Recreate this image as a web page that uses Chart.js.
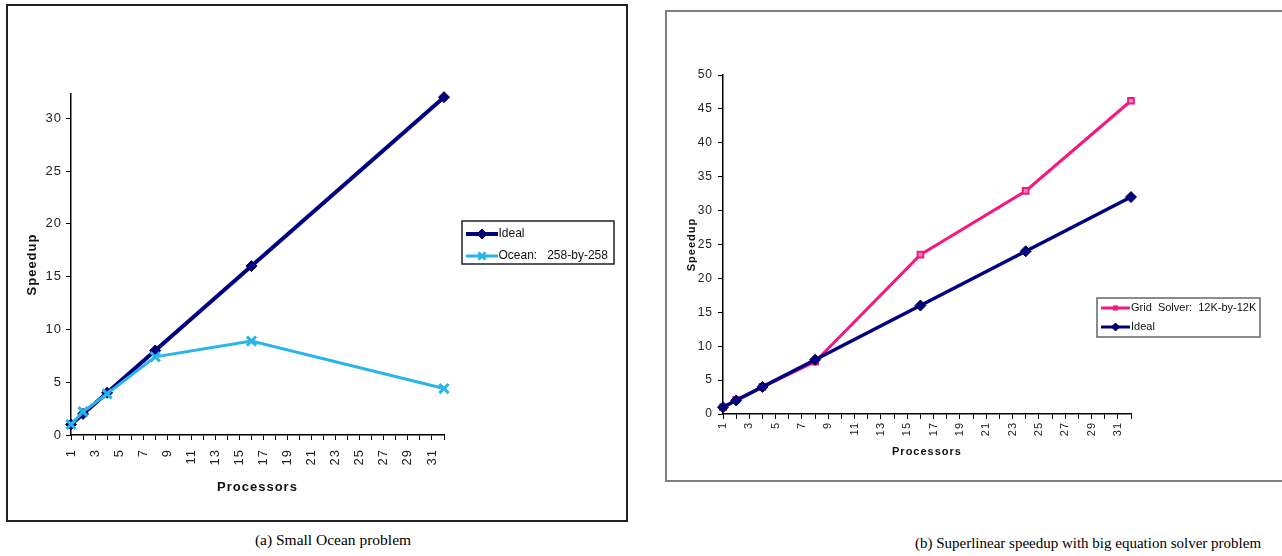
<!DOCTYPE html>
<html>
<head>
<meta charset="utf-8">
<script src="https://cdn.jsdelivr.net/npm/chart.js@4.4.1/dist/chart.umd.min.js"></script>
<style>
  body { margin: 0; background: #fff; width: 1282px; height: 556px; position: relative; overflow: hidden; }
  .frame { position: absolute; box-sizing: border-box; }
  #frameA { left: 6px; top: 4px; width: 622px; height: 518px; border: 2px solid #222; }
  #frameB { left: 665px; top: 10px; width: 620px; height: 472px; border: 2px solid #808080; }
  canvas { position: absolute; }
  #chartA { left: 0; top: 0; }
  #chartB { left: 667px; top: 12px; }
  .caption { position: absolute; font-family: 'Liberation Serif', 'Times New Roman', serif; font-size: 15.5px; color: #000; white-space: nowrap; transform: translateX(-50%); }
  #capA { left: 333px; top: 531px; }
  #capB { left: 1088px; top: 535px; font-size: 15px; }
</style>
</head>
<body>
<div class="frame" id="frameA"></div>
<div class="frame" id="frameB"></div>
<canvas id="chartA" width="640" height="530"></canvas>
<canvas id="chartB" width="613" height="468"></canvas>
<div class="caption" id="capA">(a) Small Ocean problem</div>
<div class="caption" id="capB">(b) Superlinear speedup with big equation solver problem</div>
<script>
// (a) Small Ocean problem
const oceanProcs = [1, 2, 4, 8, 16, 32];
const oceanIdeal = [1, 2, 4, 8, 16, 32];
const oceanSpeedup = [1.0, 2.2, 3.9, 7.4, 8.9, 4.4];
const oceanLabels = ['Ideal', 'Ocean:   258-by-258'];

// (b) Grid solver
const gridProcs = [1, 2, 4, 8, 16, 24, 32];
const gridIdeal = [1, 2, 4, 8, 16, 24, 32];
const gridSpeedup = [1.0, 2.1, 4.0, 7.7, 23.5, 32.9, 46.2];
const gridLabels = ['Grid  Solver:  12K-by-12K', 'Ideal'];

// axis ranges / ticks
const procMin = 1, procMax = 32;
const speedMaxA = 32.3, speedMaxB = 50, speedStep = 5;

const NAVY = '#000080';
const CYAN = '#29B5EA';
const PINK = '#F5187F';
const SANS = "'Liberation Sans', Arial, sans-serif";

const pts = (xs, ys) => xs.map((x, i) => ({ x: x, y: ys[i] }));

// excel-ish letter spacing on axis text
const spacing = {
  id: 'spacing',
  beforeDraw(chart) { chart.ctx.letterSpacing = '1px'; },
  afterDatasetsDraw(chart) { chart.ctx.letterSpacing = '0px'; }
};

// boxed legend placed like the original
const boxLegend = {
  id: 'boxLegend',
  afterDraw(chart, args, o) {
    const ctx = chart.ctx;
    ctx.save();
    ctx.letterSpacing = '0px';
    ctx.strokeStyle = o.border;
    ctx.lineWidth = o.borderWidth;
    ctx.strokeRect(o.x, o.y, o.w, o.h);
    ctx.beginPath();
    ctx.rect(o.x, o.y, o.w - 1, o.h);
    ctx.clip();
    o.items.forEach((it, i) => {
      const y = o.y + o.rows[i];
      ctx.strokeStyle = it.color;
      ctx.lineWidth = it.lineWidth;
      ctx.beginPath();
      ctx.moveTo(o.x + o.line0, y);
      ctx.lineTo(o.x + o.line1, y);
      ctx.stroke();
      ctx.fillStyle = it.fill;
      ctx.strokeStyle = it.edge;
      ctx.lineWidth = it.pointBorder;
      Chart.helpers.drawPoint(ctx, { pointStyle: it.style, radius: it.radius, rotation: 0, borderWidth: it.pointBorder },
        o.x + (o.line0 + o.line1) / 2, y);
      ctx.fillStyle = '#111';
      ctx.font = o.font;
      ctx.textBaseline = 'middle';
      ctx.textAlign = 'left';
      ctx.fillText(it.label, o.x + o.textX, y);
    });
    ctx.restore();
  }
};

function xAxis(size, pad, height, titleSize) {
  return {
    type: 'linear', min: procMin, max: procMax,
    afterFit(s) { s.height = height; },
    ticks: {
      stepSize: 1, autoSkip: false, minRotation: 90, maxRotation: 90, padding: pad,
      color: '#222', font: { family: SANS, size: size },
      callback: v => (v % 2 === 1 ? v : '')
    },
    grid: { drawOnChartArea: false, drawTicks: true, tickLength: 5, color: '#000', lineWidth: 1 },
    border: { display: true, color: '#000', width: 1.5 },
    title: { display: true, text: 'Processors', color: '#111', padding: { top: 0, bottom: 0 },
      font: { family: SANS, size: titleSize, weight: 'bold' } }
  };
}

function yAxis(max, size, pad, width, titleSize) {
  return {
    type: 'linear', min: 0, max: max,
    afterFit(s) { s.width = width; },
    afterBuildTicks(s) { s.ticks = s.ticks.filter(t => t.value % speedStep === 0); },
    ticks: { stepSize: speedStep, padding: pad, color: '#222', font: { family: SANS, size: size } },
    grid: { drawOnChartArea: false, drawTicks: true, tickLength: 5, color: '#000', lineWidth: 1 },
    border: { display: true, color: '#000', width: 1.5 },
    title: { display: true, text: 'Speedup', color: '#111', padding: { top: 4, bottom: 0 },
      font: { family: SANS, size: titleSize, weight: 'bold' } }
  };
}

new Chart(document.getElementById('chartA'), {
  type: 'line',
  data: {
    datasets: [
      {
        label: oceanLabels[0], data: pts(oceanProcs, oceanIdeal), order: 1, clip: false,
        borderColor: NAVY, borderWidth: 4, pointStyle: 'rectRot', pointRadius: 5.5,
        pointBackgroundColor: NAVY, pointBorderColor: '#000040', pointBorderWidth: 1
      },
      {
        label: oceanLabels[1], data: pts(oceanProcs, oceanSpeedup), order: 0, clip: false,
        borderColor: CYAN, borderWidth: 3, pointStyle: 'crossRot', pointRadius: 6.5,
        pointBorderColor: CYAN, pointBorderWidth: 3
      }
    ]
  },
  options: {
    responsive: false, animation: false, devicePixelRatio: 1,
    layout: { padding: { top: 94, right: 196, bottom: 35, left: 21 } },
    scales: { x: xAxis(13, 9, 60, 13), y: yAxis(speedMaxA, 13, 4, 50, 13) },
    plugins: {
      legend: { display: false }, tooltip: { enabled: false },
      boxLegend: {
        x: 462, y: 221, w: 152, h: 43, rows: [13, 35], line0: 4, line1: 36, textX: 36.5,
        border: '#222', borderWidth: 1.5, font: '12px ' + SANS,
        items: [
          { label: oceanLabels[0], color: NAVY, lineWidth: 4, style: 'rectRot', radius: 5, fill: NAVY, edge: '#000040', pointBorder: 1 },
          { label: oceanLabels[1], color: CYAN, lineWidth: 3, style: 'crossRot', radius: 5, fill: CYAN, edge: CYAN, pointBorder: 3 }
        ]
      }
    }
  },
  plugins: [spacing, boxLegend]
});

new Chart(document.getElementById('chartB'), {
  type: 'line',
  data: {
    datasets: [
      {
        label: gridLabels[0], data: pts(gridProcs, gridSpeedup), order: 1, clip: false,
        borderColor: PINK, borderWidth: 3, pointStyle: 'rect', pointRadius: 4,
        pointBackgroundColor: '#F98CBF', pointBorderColor: PINK, pointBorderWidth: 2
      },
      {
        label: gridLabels[1], data: pts(gridProcs, gridIdeal), order: 0, clip: false,
        borderColor: NAVY, borderWidth: 3.5, pointStyle: 'rectRot', pointRadius: 5.5,
        pointBackgroundColor: NAVY, pointBorderColor: '#000040', pointBorderWidth: 1
      }
    ]
  },
  options: {
    responsive: false, animation: false, devicePixelRatio: 1,
    layout: { padding: { top: 63, right: 149, bottom: 21, left: 14 } },
    scales: { x: xAxis(11, 3, 45, 11), y: yAxis(speedMaxB, 12, 5, 42, 11) },
    plugins: {
      legend: { display: false }, tooltip: { enabled: false },
      boxLegend: {
        x: 430, y: 286, w: 163, h: 39, rows: [10, 29], line0: 4, line1: 33, textX: 34,
        border: '#666', borderWidth: 1.5, font: '11px ' + SANS,
        items: [
          { label: gridLabels[0], color: PINK, lineWidth: 3, style: 'rect', radius: 3, fill: PINK, edge: PINK, pointBorder: 1 },
          { label: gridLabels[1], color: NAVY, lineWidth: 3, style: 'rectRot', radius: 4, fill: NAVY, edge: '#000040', pointBorder: 1 }
        ]
      }
    }
  },
  plugins: [spacing, boxLegend]
});
</script>
</body>
</html>
